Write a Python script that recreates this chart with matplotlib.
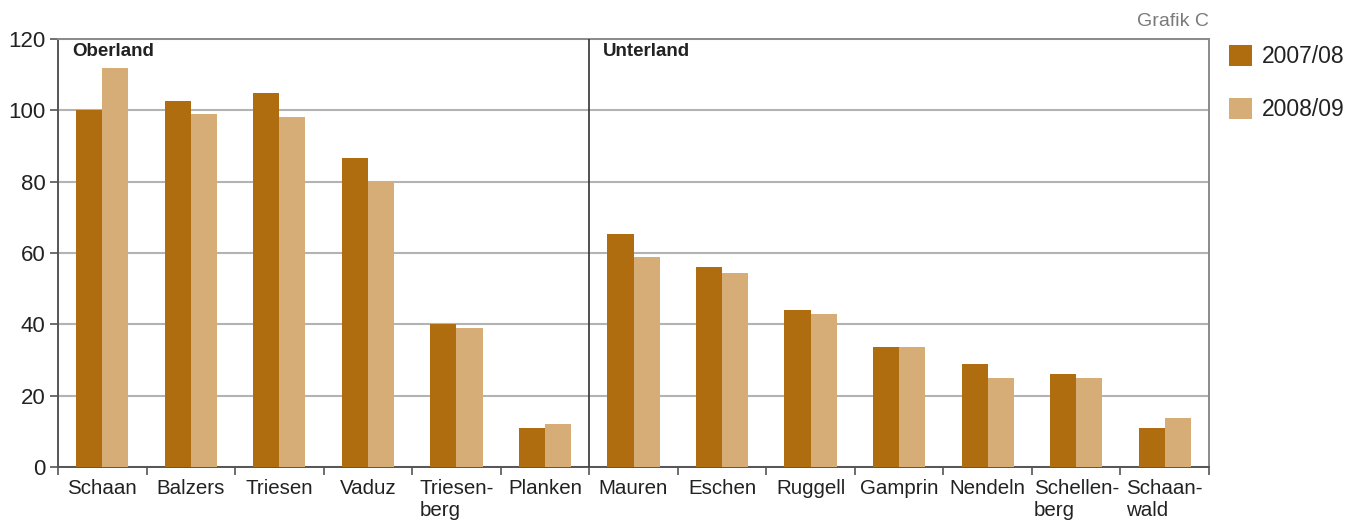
import matplotlib
matplotlib.use("Agg")
import matplotlib.pyplot as plt
import numpy as np

plt.rcParams["font.family"] = ["Liberation Sans", "DejaVu Sans"]

# Gemeinden, Oberland first, then Unterland
gemeinden = ["Schaan", "Balzers", "Triesen", "Vaduz", "Triesen-\nberg", "Planken",
             "Mauren", "Eschen", "Ruggell", "Gamprin", "Nendeln", "Schellen-\nberg",
             "Schaan-\nwald"]
werte_0708 = [100, 102.7, 105, 86.7, 40, 11, 65.3, 56, 44.1, 33.7, 28.9, 26.1, 11]
werte_0809 = [112, 99.1, 98, 80, 39, 12, 59, 54.3, 43, 33.7, 25, 25, 13.7]
jahre = ["2007/08", "2008/09"]
regionen = ["Oberland", "Unterland"]
n_oberland = 6
y_ticks = [0, 20, 40, 60, 80, 100, 120]

farbe_dunkel = "#AF6D10"
farbe_hell = "#D6AD77"

W, H = 1349, 520
fig = plt.figure(figsize=(W / 100, H / 100), dpi=100)
ax = fig.add_axes([58 / W, 53 / H, (1209 - 58) / W, (467 - 39) / H])

x = np.arange(len(gemeinden))
bw = 0.295
b1 = ax.bar(x - bw / 2, werte_0708, bw, color=farbe_dunkel, label=jahre[0], zorder=3)
b2 = ax.bar(x + bw / 2, werte_0809, bw, color=farbe_hell, label=jahre[1], zorder=3)

ax.set_xlim(-0.5, len(gemeinden) - 0.5)
ax.set_ylim(0, 120)
ax.set_yticks(y_ticks)
ax.yaxis.grid(True, color="#b3b3b3", lw=1.5, zorder=0)

ax.set_xticks(x)
ax.set_xticklabels(gemeinden)
for lbl in ax.get_xticklabels():
    lbl.set_multialignment("left")
ax.set_xticks(np.arange(-0.5, len(gemeinden), 1), minor=True)
ax.tick_params(axis="x", which="major", length=0, pad=8.5, labelsize=14.8, labelcolor="#222222")
ax.tick_params(axis="x", which="minor", length=6, width=1.2, color="#555555", direction="out")
ax.tick_params(axis="y", which="major", length=6, width=1.2, color="#555555", pad=3,
               labelsize=16, labelcolor="#222222")

for side in ("left", "bottom"):
    ax.spines[side].set_color("#555555")
    ax.spines[side].set_linewidth(1.4)
for side in ("top", "right"):
    ax.spines[side].set_color("#8a8a8a")
    ax.spines[side].set_linewidth(1.4)

# Trennlinie zwischen Oberland und Unterland
ax.axvline(n_oberland - 0.5, color="#333333", lw=1.2, zorder=4)

ax.annotate(regionen[0], xy=(-0.5, 120), xytext=(10, -3), textcoords="offset points",
            ha="left", va="top", fontsize=13.5, fontweight="bold", color="#222222")
ax.annotate(regionen[1], xy=(n_oberland - 0.5, 120), xytext=(9.5, -3), textcoords="offset points",
            ha="left", va="top", fontsize=13.5, fontweight="bold", color="#222222")

fig.text(1209 / W, 1 - 22 / H, "Grafik C", ha="right", va="center", color="#7a7a7a", fontsize=14)

fig.legend(handles=[b1, b2], labels=jahre, loc="upper left",
           bbox_to_anchor=(1229 / W, 1 - 45 / H), frameon=False, fontsize=16.5,
           handlelength=1.0, handleheight=1.0, labelspacing=1.31, handletextpad=0.45,
           borderaxespad=0, borderpad=0, labelcolor="#222222")

fig.savefig("out.png", dpi=100)
